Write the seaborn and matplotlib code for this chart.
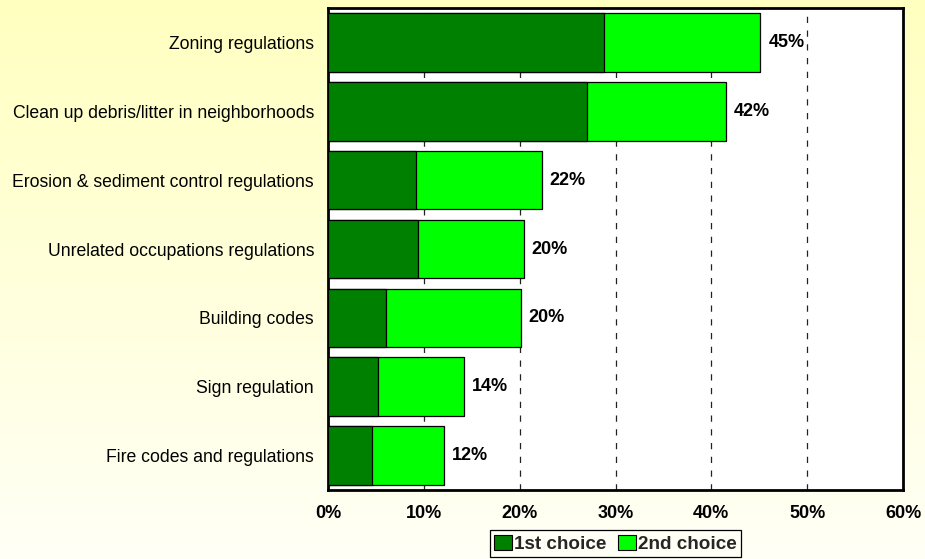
import matplotlib
matplotlib.use("Agg")
import matplotlib.pyplot as plt
import numpy as np
import pandas as pd
import seaborn as sns
from matplotlib.patches import Patch

categories = [
    "Zoning regulations",
    "Clean up debris/litter in neighborhoods",
    "Erosion & sediment control regulations",
    "Unrelated occupations regulations",
    "Building codes",
    "Sign regulation",
    "Fire codes and regulations",
]
first_choice = [28.8, 27.0, 9.2, 9.4, 6.0, 5.2, 4.6]
total = [45.1, 41.5, 22.3, 20.4, 20.1, 14.2, 12.1]
total_labels = ["45%", "42%", "22%", "20%", "20%", "14%", "12%"]
x_ticks = [0, 10, 20, 30, 40, 50, 60]
x_tick_labels = ["0%", "10%", "20%", "30%", "40%", "50%", "60%"]

sns.set_theme(style="white")
plt.rcParams["font.family"] = ["Liberation Sans", "DejaVu Sans"]

df = pd.DataFrame({"category": categories, "first": first_choice, "total": total})

fig = plt.figure(figsize=(9.25, 5.59), dpi=100)

# background vertical gradient
bg = fig.add_axes([0, 0, 1, 1], zorder=-10)
top = np.array([255, 255, 192]) / 255
bot = np.array([255, 255, 246]) / 255
t = np.linspace(0, 1, 256)[:, None]
grad = top[None, :] * (1 - t) + bot[None, :] * t
bg.imshow(grad[:, None, :], aspect="auto", extent=[0, 1, 0, 1])
bg.axis("off")

ax = fig.add_axes([328 / 925, 1 - 490 / 559, 575 / 925, 482 / 559])
ax.set_facecolor("white")

sns.barplot(data=df, x="total", y="category", orient="h", color="#00FF00",
            edgecolor="black", linewidth=0.9, width=0.85, saturation=1, ax=ax, zorder=3)
sns.barplot(data=df, x="first", y="category", orient="h", color="#008000",
            edgecolor="black", linewidth=0.9, width=0.85, saturation=1, ax=ax, zorder=4)

ax.set_xlim(0, 60)
ax.set_ylim(6.5, -0.5)
ax.set_xticks(x_ticks)
ax.set_xticklabels(x_tick_labels, fontweight="bold", fontsize=13, color="black")
ax.tick_params(axis="y", length=0, pad=10, labelsize=12.7, labelcolor="black")
ax.tick_params(axis="x", length=0, pad=11)
ax.set_xlabel("")
ax.set_ylabel("")

for xv in x_ticks[1:-1]:
    ax.axvline(xv, color="#222222", linewidth=0.9, linestyle=(0, (5, 6)), zorder=1)

for sp in ax.spines.values():
    sp.set_visible(True)
    sp.set_color("black")
    sp.set_linewidth(2.0)

for i, (v, lab) in enumerate(zip(total, total_labels)):
    ax.text(v + 0.85, i, lab, va="center", ha="left", fontweight="bold",
            fontsize=13, color="black", zorder=5)

handles = [Patch(facecolor="#008000", edgecolor="black", linewidth=0.8, label="1st choice"),
           Patch(facecolor="#00FF00", edgecolor="black", linewidth=0.8, label="2nd choice")]
leg = fig.legend(handles=handles, loc="lower center", bbox_to_anchor=(615.5 / 925, -0.014),
                 ncol=2, frameon=True, fancybox=False, handlelength=0.95, handleheight=0.85,
                 handletextpad=0.1, columnspacing=0.6, borderpad=0.25,
                 prop={"weight": "bold", "size": 13.6})
leg.get_frame().set_edgecolor("black")
leg.get_frame().set_linewidth(0.9)
leg.get_frame().set_facecolor("#FFFFF6")
leg.get_frame().set_alpha(1)

fig.savefig("out.png", dpi=100)
